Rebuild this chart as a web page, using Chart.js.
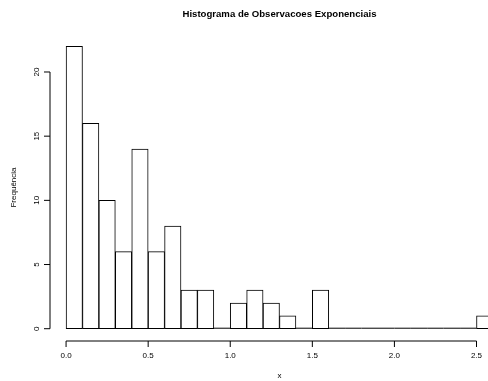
<!DOCTYPE html>
<html>
<head>
<meta charset="utf-8">
<script src="https://cdn.jsdelivr.net/npm/chart.js@4"></script>
<style>
  html, body { margin: 0; padding: 0; overflow: hidden; background: #fff; }
  #wrap { position: relative; width: 530px; height: 381px; }
</style>
</head>
<body>
<div id="wrap"><canvas id="c"></canvas></div>
<script>
// ---- data ----
const binCenters = [0.05, 0.15, 0.25, 0.35, 0.45, 0.55, 0.65, 0.75, 0.85, 0.95,
                    1.05, 1.15, 1.25, 1.35, 1.45, 1.55, 1.65, 1.75, 1.85, 1.95,
                    2.05, 2.15, 2.25, 2.35, 2.45, 2.55];
const counts = [22, 16, 10, 6, 14, 6, 8, 3, 3, 0,
                2, 3, 2, 1, 0, 3, 0, 0, 0, 0,
                0, 0, 0, 0, 0, 1];
const xTicks = [0, 0.5, 1.0, 1.5, 2.0, 2.5];
const xTickLabels = ['0.0', '0.5', '1.0', '1.5', '2.0', '2.5'];
const yTicks = [0, 5, 10, 15, 20];
const titleText = 'Histograma de Observacoes Exponenciais';
const xTitle = 'x';
const yTitle = 'Frequência';

const FONT = "'Liberation Sans', Arial, Helvetica, sans-serif";

// zero-count bins are drawn by R as flat rectangles (a line on the baseline)
const zeroBins = {
  id: 'zeroBins',
  afterDatasetsDraw(chart) {
    const ctx = chart.ctx;
    const meta = chart.getDatasetMeta(0);
    ctx.save();
    ctx.strokeStyle = '#000';
    ctx.lineWidth = 1;
    ctx.beginPath();
    meta.data.forEach((el, i) => {
      if (counts[i] === 0) {
        const p = el.getProps(['x', 'width', 'base'], true);
        ctx.moveTo(p.x - p.width / 2, p.base - 0.5);
        ctx.lineTo(p.x + p.width / 2, p.base - 0.5);
      }
    });
    ctx.stroke();
    ctx.restore();
  }
};

// R-style axes: line spans first..last tick, ticks outside, rotated y labels
const rAxes = {
  id: 'rAxes',
  afterDraw(chart) {
    const ctx = chart.ctx;
    const xs = chart.scales.x, ys = chart.scales.y;
    const area = chart.chartArea;
    ctx.save();
    ctx.strokeStyle = '#000';
    ctx.lineWidth = 1;
    // x axis
    const ay = Math.round(area.bottom) + 1;
    ctx.beginPath();
    ctx.moveTo(xs.getPixelForValue(xTicks[0]), ay);
    ctx.lineTo(xs.getPixelForValue(xTicks[xTicks.length - 1]), ay);
    xTicks.forEach(v => {
      const px = xs.getPixelForValue(v);
      ctx.moveTo(px, ay);
      ctx.lineTo(px, ay + 6);
    });
    ctx.stroke();
    // y axis
    const ax = Math.round(area.left) + 1;
    ctx.beginPath();
    ctx.moveTo(ax, ys.getPixelForValue(yTicks[0]));
    ctx.lineTo(ax, ys.getPixelForValue(yTicks[yTicks.length - 1]));
    yTicks.forEach(v => {
      const py = ys.getPixelForValue(v);
      ctx.moveTo(ax, py);
      ctx.lineTo(ax - 6, py);
    });
    ctx.stroke();
    // y tick labels, rotated like R (las = 0)
    ctx.fillStyle = '#000';
    ctx.font = '8px ' + FONT;
    ctx.textAlign = 'center';
    ctx.textBaseline = 'middle';
    yTicks.forEach(v => {
      const py = ys.getPixelForValue(v);
      ctx.save();
      ctx.translate(ax - 13, py);
      ctx.rotate(-Math.PI / 2);
      ctx.fillText(String(v), 0, 0);
      ctx.restore();
    });
    ctx.restore();
  }
};

new Chart(document.getElementById('c'), {
  type: 'bar',
  data: {
    datasets: [{
      data: binCenters.map((x, i) => ({ x: x, y: counts[i] })),
      backgroundColor: '#ffffff',
      borderColor: '#000000',
      borderWidth: 1,
      borderSkipped: false,
      barPercentage: 1,
      categoryPercentage: 1
    }]
  },
  options: {
    responsive: true,
    maintainAspectRatio: false,
    animation: false,
    events: [],
    layout: { padding: { left: 0, right: 20, top: 0, bottom: 0 } },
    plugins: {
      legend: { display: false },
      tooltip: { enabled: false },
      title: {
        display: true,
        text: titleText,
        fullSize: false,
        color: '#000',
        font: { family: FONT, size: 9.6, weight: 'bold', lineHeight: 1.2 },
        padding: { top: 9, bottom: 14.5 }
      }
    },
    scales: {
      x: {
        type: 'linear',
        min: -0.104,
        max: 2.704,
        offset: false,
        grid: { display: false, drawTicks: false, offset: false },
        border: { display: false },
        afterBuildTicks(scale) { scale.ticks = xTicks.map(v => ({ value: v })); },
        afterFit(scale) { scale.height = 41; },
        ticks: {
          autoSkip: false,
          maxRotation: 0,
          minRotation: 0,
          padding: 11,
          color: '#000',
          font: { family: FONT, size: 8 },
          callback: (v) => { const i = xTicks.indexOf(v); return i >= 0 ? xTickLabels[i] : ''; }
        },
        title: {
          display: true,
          text: xTitle,
          color: '#000',
          font: { family: FONT, size: 8 },
          padding: { top: 0, bottom: 0 }
        }
      },
      y: {
        type: 'linear',
        min: -0.88,
        max: 22.88,
        grid: { display: false, drawTicks: false },
        border: { display: false },
        afterBuildTicks(scale) { scale.ticks = yTicks.map(v => ({ value: v })); },
        afterFit(scale) { scale.width = 49; },
        ticks: { display: false },
        title: {
          display: true,
          text: yTitle,
          color: '#000',
          font: { family: FONT, size: 8 },
          padding: { top: 9, bottom: 0 }
        }
      }
    }
  },
  plugins: [zeroBins, rAxes]
});
</script>
</body>
</html>
